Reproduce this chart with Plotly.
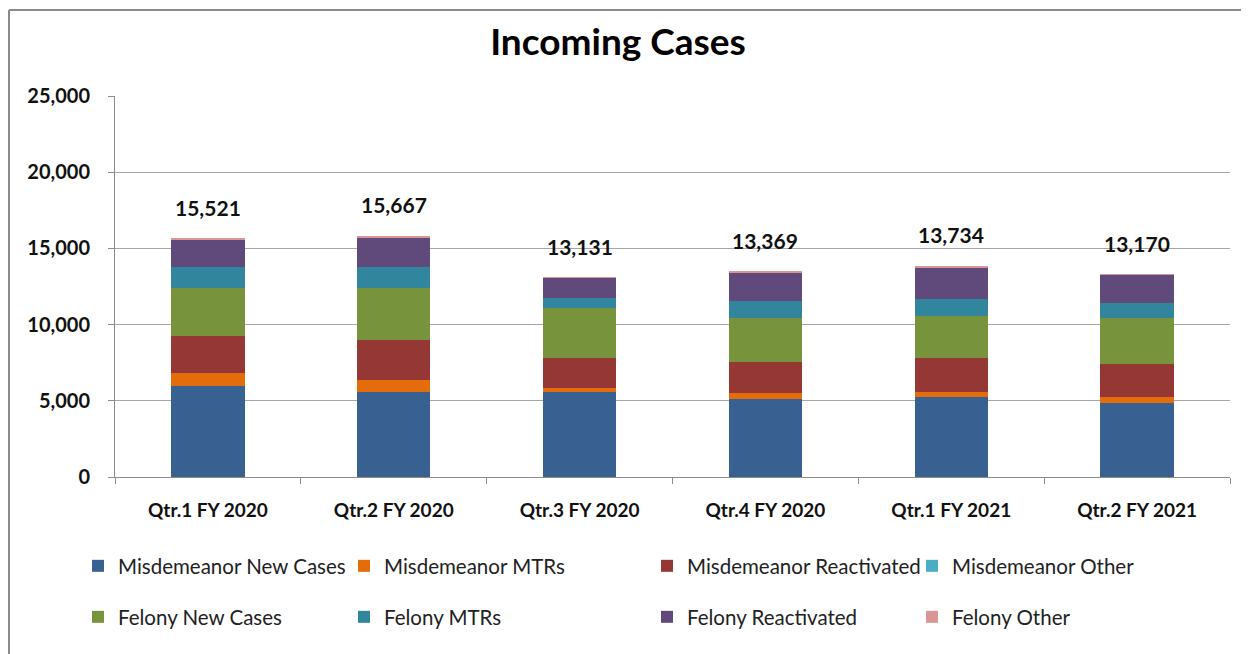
import plotly.graph_objects as go

categories = ["Qtr.1 FY 2020", "Qtr.2 FY 2020", "Qtr.3 FY 2020",
              "Qtr.4 FY 2020", "Qtr.1 FY 2021", "Qtr.2 FY 2021"]

misd_new = [5965, 5592, 5592, 5088, 5219, 4847]
misd_mtr = [833, 746, 263, 395, 373, 372]
misd_react = [2434, 2675, 1930, 2061, 2193, 2193]
misd_other = [0, 0, 0, 0, 0, 0]
fel_new = [3158, 3377, 3290, 2917, 2785, 3049]
fel_mtr = [1360, 1360, 701, 1096, 1097, 965]
fel_react = [1820, 1930, 1338, 1864, 2083, 1842]
fel_other = [110, 153, 5, 66, 110, 5]

total_labels = [15521, 15667, 13131, 13369, 13734, 13170]

series_names = ["Misdemeanor New Cases", "Misdemeanor MTRs", "Misdemeanor Reactivated",
                "Misdemeanor Other", "Felony New Cases", "Felony MTRs",
                "Felony Reactivated", "Felony Other"]
series_values = [misd_new, misd_mtr, misd_react, misd_other,
                 fel_new, fel_mtr, fel_react, fel_other]
series_colors = ["#386192", "#E46C0A", "#953735", "#4BACC6",
                 "#77933C", "#31859C", "#604A7B", "#D99694"]

FONT = "Lato"
OFF = 8  # page body margin
W, H = 1249 - OFF, 654 - OFF
# plot area in screen pixels: x 115..1230, y 96..477
L, T = 115 - OFF, 96 - OFF
R = W - (1230 - OFF)
B = H - (477 - OFF)
PW, PH = W - L - R, H - T - B

def px_x(p):  # screen px -> paper x
    return (p - OFF - L) / PW

def px_y(p):  # screen px -> paper y
    return (H - B - (p - OFF)) / PH

# legend layout: 4 columns x 2 rows (screen px)
col_px = [78, 344, 647, 912]
row_px = [566, 617]

fig = go.Figure()
layout_legends = {}
for i, (name, vals, color) in enumerate(zip(series_names, series_values, series_colors)):
    key = "legend" if i == 0 else f"legend{i + 1}"
    fig.add_trace(go.Bar(
        name=name, x=categories, y=vals, marker_color=color,
        marker_line_width=0, legend=key, hoverinfo="skip",
    ))
    layout_legends[key] = dict(
        x=px_x(col_px[i % 4]), y=px_y(row_px[i // 4]),
        xanchor="left", yanchor="middle", orientation="h",
        font=dict(family=FONT, size=20.5, color="#222222"),
        bgcolor="rgba(0,0,0,0)", itemclick=False,
    )

stack_tops = [sum(v[i] for v in series_values) for i in range(len(categories))]
for cat, top, lab in zip(categories, stack_tops, total_labels):
    fig.add_annotation(x=cat, y=top, text=f"{lab:,}", showarrow=False,
                       yanchor="middle", yshift=31,
                       font=dict(family=FONT, size=21, color="#111111", weight="bold"))

fig.update_layout(
    width=W, height=H,
    margin=dict(l=L, r=R, t=T, b=B, autoexpand=False),
    paper_bgcolor="white", plot_bgcolor="white",
    barmode="stack", bargap=0.605,
    title=dict(text="<b>Incoming Cases</b>", x=(618 - OFF) / W, xanchor="center",
               y=1 - (42 - OFF) / H, yanchor="middle",
               font=dict(family=FONT, size=37, color="#000000")),
    xaxis=dict(showline=True, linecolor="#8c8c8c", linewidth=1,
               ticks="outside", tickson="boundaries", ticklen=6, tickcolor="#8c8c8c",
               ticklabelstandoff=16,
               tickfont=dict(family=FONT, size=19, color="#111111", weight="bold"),
               showgrid=False),
    yaxis=dict(range=[0, 25000], dtick=5000, tickformat=",",
               showline=True, linecolor="#8c8c8c", linewidth=1,
               ticks="outside", ticklen=6, tickcolor="#8c8c8c",
               ticklabelstandoff=14,
               gridcolor="#a6a6a6", gridwidth=1, zeroline=False,
               tickfont=dict(family=FONT, size=20, color="#111111", weight="bold")),
    showlegend=True,
    **layout_legends,
)

# chart frame (top and left edges visible)
fig.add_shape(type="line", xref="paper", yref="paper",
              x0=px_x(OFF + 1), x1=px_x(1260), y0=px_y(10), y1=px_y(10),
              line=dict(color="#8a8a8a", width=2))
fig.add_shape(type="line", xref="paper", yref="paper",
              x0=px_x(OFF + 1), x1=px_x(OFF + 1), y0=px_y(10), y1=px_y(670),
              line=dict(color="#8a8a8a", width=2))

fig.write_html("out.html")
